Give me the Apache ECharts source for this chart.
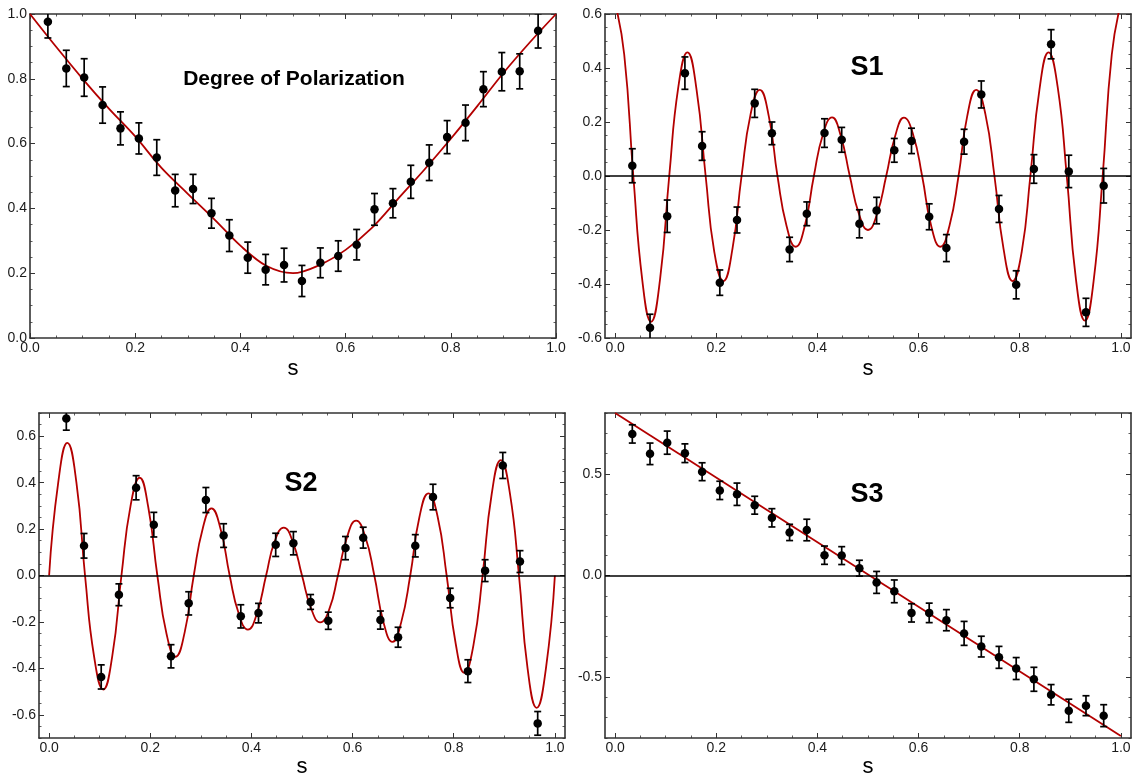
<!DOCTYPE html>
<html><head><meta charset="utf-8">
<script src="https://cdn.jsdelivr.net/npm/echarts@6/dist/echarts.min.js"></script>
<style>html,body{margin:0;padding:0;background:#fff}#c{width:1141px;height:782px}</style>
</head><body><div id="c"></div>
<script>
// ---- data ----
const sVals = [0.034, 0.069, 0.103, 0.138, 0.172, 0.207, 0.241, 0.276, 0.310, 0.345, 0.379, 0.414, 0.448, 0.483,
               0.517, 0.552, 0.586, 0.621, 0.655, 0.690, 0.724, 0.759, 0.793, 0.828, 0.862, 0.897, 0.931, 0.966];

const dopVals = [0.976, 0.832, 0.804, 0.719, 0.647, 0.616, 0.557, 0.455, 0.460, 0.385, 0.316, 0.248, 0.211, 0.225,
                 0.176, 0.232, 0.253, 0.288, 0.397, 0.416, 0.482, 0.541, 0.620, 0.664, 0.768, 0.822, 0.823, 0.948];
const dopErr = [0.050, 0.056, 0.058, 0.056, 0.051, 0.048, 0.055, 0.050, 0.045, 0.046, 0.049, 0.048, 0.047, 0.052,
                0.048, 0.046, 0.047, 0.047, 0.049, 0.045, 0.051, 0.055, 0.051, 0.055, 0.054, 0.059, 0.054, 0.053];

const s1Vals = [0.038, -0.562, -0.149, 0.381, 0.111, -0.395, -0.163, 0.269, 0.158, -0.272, -0.140, 0.159, 0.134, -0.177,
                -0.128, 0.095, 0.130, -0.151, -0.267, 0.127, 0.302, -0.122, -0.403, 0.026, 0.488, 0.017, -0.505, -0.036];
const s1Err = [0.063, 0.050, 0.060, 0.060, 0.053, 0.047, 0.048, 0.052, 0.042, 0.045, 0.044, 0.053, 0.046, 0.052,
               0.049, 0.044, 0.047, 0.048, 0.050, 0.046, 0.050, 0.050, 0.052, 0.053, 0.054, 0.060, 0.052, 0.064];

const s2Vals = [0.676, 0.128, -0.437, -0.083, 0.378, 0.219, -0.348, -0.120, 0.325, 0.172, -0.176, -0.162, 0.132, 0.139,
                -0.114, -0.195, 0.118, 0.163, -0.192, -0.266, 0.128, 0.338, -0.097, -0.412, 0.021, 0.474, 0.060, -0.637];
const s2Err = [0.050, 0.053, 0.052, 0.047, 0.052, 0.053, 0.050, 0.050, 0.054, 0.051, 0.050, 0.042, 0.050, 0.050,
               0.032, 0.037, 0.050, 0.045, 0.039, 0.043, 0.048, 0.055, 0.042, 0.049, 0.047, 0.056, 0.047, 0.051];

const s3Vals = [0.697, 0.599, 0.654, 0.602, 0.511, 0.419, 0.400, 0.346, 0.284, 0.212, 0.224, 0.100, 0.098, 0.036,
                -0.034, -0.078, -0.184, -0.184, -0.220, -0.285, -0.350, -0.403, -0.458, -0.511, -0.587, -0.666, -0.641, -0.690];
const s3Err = [0.045, 0.053, 0.057, 0.046, 0.044, 0.045, 0.055, 0.044, 0.045, 0.040, 0.053, 0.045, 0.044, 0.039,
               0.054, 0.056, 0.045, 0.048, 0.052, 0.059, 0.051, 0.054, 0.054, 0.059, 0.050, 0.057, 0.049, 0.054];

// fitted curves
const dopCurveX = [0, 0.05, 0.10, 0.15, 0.20, 0.25, 0.30, 0.35, 0.40, 0.45, 0.50, 0.55, 0.60, 0.65, 0.70, 0.75, 0.80, 0.85, 0.90, 0.95, 1.0];
const dopCurveY = [1.0, 0.898, 0.800, 0.708, 0.622, 0.525, 0.445, 0.367, 0.285, 0.222, 0.200, 0.225, 0.272, 0.340, 0.430, 0.520, 0.615, 0.715, 0.818, 0.912, 1.0];

const oscCurveX = [0, 0.018, 0.036, 0.054, 0.071, 0.089, 0.107, 0.125, 0.143, 0.161, 0.179, 0.196, 0.214, 0.232,
                   0.250, 0.268, 0.286, 0.304, 0.321, 0.339, 0.357, 0.375, 0.393, 0.411, 0.429, 0.446, 0.464, 0.482,
                   0.500, 0.518, 0.536, 0.554, 0.571, 0.589, 0.607, 0.625, 0.643, 0.661, 0.679, 0.696, 0.714, 0.732,
                   0.750, 0.768, 0.786, 0.804, 0.821, 0.839, 0.857, 0.875, 0.893, 0.911, 0.929, 0.946, 0.964, 0.982, 1.0];
const s1CurveY = [0.64, 0.45, 0, -0.39, -0.54, -0.38, 0, 0.33, 0.458, 0.32, 0, -0.28, -0.389, -0.27,
                  0, 0.23, 0.319, 0.22, 0, -0.185, -0.262, -0.185, 0, 0.155, 0.217, 0.15, 0, -0.14,
                  -0.20, -0.14, 0, 0.15, 0.216, 0.155, 0, -0.185, -0.262, -0.185, 0, 0.22, 0.319, 0.23,
                  0, -0.27, -0.389, -0.28, 0, 0.32, 0.458, 0.33, 0, -0.38, -0.536, -0.39, 0, 0.45, 0.64];
const s2CurveY = [0, 0.40, 0.571, 0.40, 0, -0.35, -0.491, -0.345, 0, 0.30, 0.421, 0.295, 0, -0.25,
                  -0.35, -0.245, 0, 0.205, 0.289, 0.20, 0, -0.165, -0.233, -0.163, 0, 0.147, 0.206, 0.144,
                  0, -0.142, -0.202, -0.145, 0, 0.165, 0.236, 0.168, 0, -0.20, -0.286, -0.203, 0, 0.25,
                  0.354, 0.255, 0, -0.295, -0.419, -0.30, 0, 0.35, 0.497, 0.355, 0, -0.40, -0.57, -0.405, 0];
const s3CurveX = [0, 1.0];
const s3CurveY = [0.80, -0.79];

// tick labels
const xTicks = [0, 0.2, 0.4, 0.6, 0.8, 1.0];
const dopYTicks = [0, 0.2, 0.4, 0.6, 0.8, 1.0];
const s1YTicks = [-0.6, -0.4, -0.2, 0, 0.2, 0.4, 0.6];
const s2YTicks = [-0.6, -0.4, -0.2, 0, 0.2, 0.4, 0.6];
const s3YTicks = [-0.5, 0, 0.5];

// ---- chart ----
function steps(a, b, st) { const out = []; const n = Math.round((b - a) / st); for (let i = 0; i <= n; i++) out.push(+(a + i * st).toFixed(4)); return out; }
const FONT = '"Liberation Sans", Arial, Helvetica, sans-serif';
const FRAME = '#333';

const panels = [
  { grid: { left: 30, top: 14, width: 526, height: 324 }, xMin: 0, xMax: 1, yMin: 0, yMax: 1,
    xMajor: xTicks, xMinor: steps(0, 1, 0.05), yMajor: dopYTicks, yMinor: steps(0, 1, 0.05),
    vals: dopVals, err: dopErr, cx: dopCurveX, cy: dopCurveY, zero: false, smooth: 0.35 },
  { grid: { left: 605, top: 14, width: 526, height: 324 }, xMin: -0.02, xMax: 1.02, yMin: -0.6, yMax: 0.6,
    xMajor: xTicks, xMinor: steps(0, 1, 0.05), yMajor: s1YTicks, yMinor: steps(-0.6, 0.6, 0.05),
    vals: s1Vals, err: s1Err, cx: oscCurveX, cy: s1CurveY, zero: true, smooth: 0.5 },
  { grid: { left: 39, top: 413, width: 526, height: 325 }, xMin: -0.02, xMax: 1.02, yMin: -0.7, yMax: 0.7,
    xMajor: xTicks, xMinor: steps(0, 1, 0.05), yMajor: s2YTicks, yMinor: steps(-0.7, 0.7, 0.05),
    vals: s2Vals, err: s2Err, cx: oscCurveX, cy: s2CurveY, zero: true, smooth: 0.5 },
  { grid: { left: 605, top: 413, width: 526, height: 325 }, xMin: -0.02, xMax: 1.02, yMin: -0.8, yMax: 0.8,
    xMajor: xTicks, xMinor: steps(0, 1, 0.05), yMajor: s3YTicks, yMinor: steps(-0.8, 0.8, 0.1),
    vals: s3Vals, err: s3Err, cx: s3CurveX, cy: s3CurveY, zero: true, smooth: false }
];

const xAxes = [], yAxes = [], series = [];
const lbl = { color: '#1a1a1a', fontSize: 14, fontFamily: FONT };
function mkAxis(gi, min, max, position, majors, minors, labels) {
  const base = { type: 'value', gridIndex: gi, min: min, max: max, position: position, splitLine: { show: false } };
  const main = Object.assign({}, base, {
    axisLine: { show: true, onZero: false, lineStyle: { color: FRAME, width: 1.6 } },
    axisTick: { show: true, inside: true, length: 5, customValues: majors, lineStyle: { color: FRAME, width: 1 } },
    axisLabel: labels ? Object.assign({ show: true, customValues: majors, margin: 3,
      showMinLabel: true, showMaxLabel: true, hideOverlap: false,
      formatter: v => Number(v).toFixed(1) }, lbl) : { show: false, customValues: majors }
  });
  const minor = Object.assign({}, base, {
    axisLine: { show: false, onZero: false },
    axisTick: { show: true, inside: true, length: 2.5, customValues: minors, lineStyle: { color: FRAME, width: 0.8 } },
    axisLabel: { show: false, customValues: minors }
  });
  return [main, minor];
}

panels.forEach((p, gi) => {
  const xi = xAxes.length, yi = yAxes.length;
  xAxes.push(...mkAxis(gi, p.xMin, p.xMax, 'bottom', p.xMajor, p.xMinor, true));
  xAxes.push(...mkAxis(gi, p.xMin, p.xMax, 'top', p.xMajor, p.xMinor, false));
  yAxes.push(...mkAxis(gi, p.yMin, p.yMax, 'left', p.yMajor, p.yMinor, true));
  yAxes.push(...mkAxis(gi, p.yMin, p.yMax, 'right', p.yMajor, p.yMinor, false));

  const curve = {
    type: 'line', xAxisIndex: xi, yAxisIndex: yi, data: p.cx.map((x, i) => [x, p.cy[i]]),
    smooth: p.smooth, showSymbol: false, symbol: 'none', clip: true, z: 2, silent: true,
    lineStyle: { color: '#b30000', width: 1.8 }
  };
  if (p.zero) {
    curve.markLine = { silent: true, symbol: ['none', 'none'], label: { show: false },
      lineStyle: { color: '#000', width: 1.5, type: 'solid' }, data: [{ yAxis: 0 }] };
  }
  series.push(curve);

  series.push({
    type: 'custom', xAxisIndex: xi, yAxisIndex: yi, clip: true, z: 3, silent: true,
    data: sVals.map((x, i) => [x, p.vals[i] - p.err[i], p.vals[i] + p.err[i]]),
    encode: { x: 0, y: [1, 2] },
    renderItem: function (params, api) {
      const x = api.value(0);
      const lo = api.coord([x, api.value(1)]);
      const hi = api.coord([x, api.value(2)]);
      const hw = 3.5, st = { stroke: '#000', lineWidth: 1.7 };
      return { type: 'group', children: [
        { type: 'line', shape: { x1: lo[0], y1: lo[1], x2: hi[0], y2: hi[1] }, style: st },
        { type: 'line', shape: { x1: lo[0] - hw, y1: lo[1], x2: lo[0] + hw, y2: lo[1] }, style: st },
        { type: 'line', shape: { x1: hi[0] - hw, y1: hi[1], x2: hi[0] + hw, y2: hi[1] }, style: st }
      ] };
    }
  });

  series.push({
    type: 'scatter', xAxisIndex: xi, yAxisIndex: yi, z: 4, silent: true,
    symbol: 'circle', symbolSize: 8.5, itemStyle: { color: '#000', opacity: 1 },
    data: sVals.map((x, i) => [x, p.vals[i]])
  });
});

function txt(text, x, y, size, bold) {
  return { type: 'text', x: x, y: y, silent: true, z: 10,
    style: { text: text, fill: '#000', font: (bold ? 'bold ' : '') + size + 'px ' + FONT, align: 'center', verticalAlign: 'middle' } };
}

const option = {
  animation: false,
  backgroundColor: '#fff',
  grid: panels.map(p => Object.assign({ containLabel: false }, p.grid)),
  xAxis: xAxes,
  yAxis: yAxes,
  series: series,
  graphic: [
    txt('Degree of Polarization', 294, 79, 21, true),
    txt('S1', 867, 68, 27, true),
    txt('S2', 301, 484, 27, true),
    txt('S3', 867, 495, 27, true),
    txt('s', 293, 369, 22, false),
    txt('s', 868, 369, 22, false),
    txt('s', 302, 767, 22, false),
    txt('s', 868, 767, 22, false)
  ]
};

const chart = echarts.init(document.getElementById('c'));
chart.setOption(option);
</script>
</body></html>
